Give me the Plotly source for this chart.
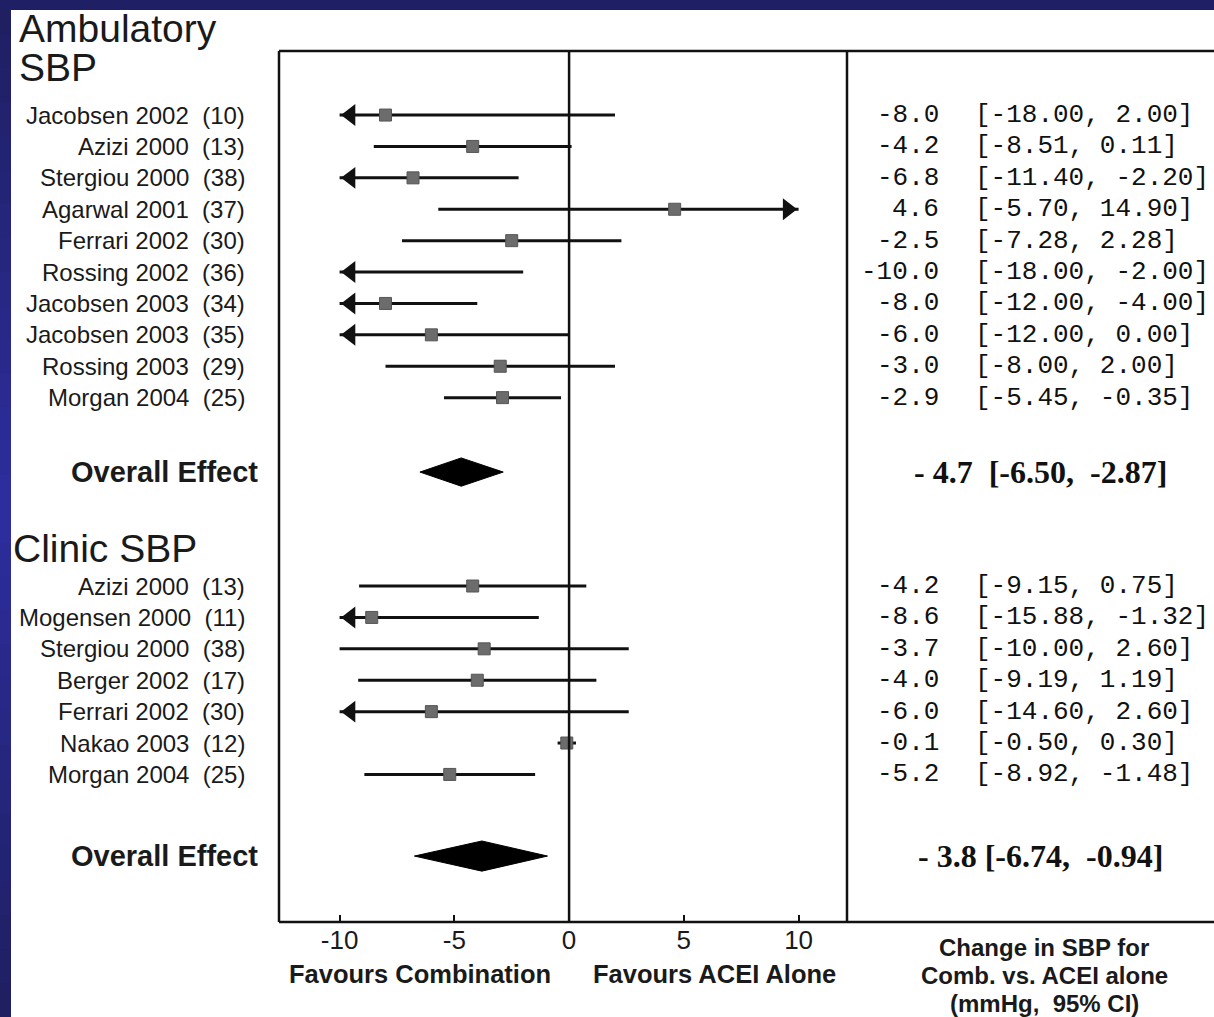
import plotly.graph_objects as go

W, H = 1214, 1017

# ---------------- data ----------------
amb_studies = ["Jacobsen 2002  (10)", "Azizi 2000  (13)", "Stergiou 2000  (38)", "Agarwal 2001  (37)",
               "Ferrari 2002  (30)", "Rossing 2002  (36)", "Jacobsen 2003  (34)", "Jacobsen 2003  (35)",
               "Rossing 2003  (29)", "Morgan 2004  (25)"]
amb_est = [-8.0, -4.2, -6.8, 4.6, -2.5, -10.0, -8.0, -6.0, -3.0, -2.9]
amb_lo = [-18.00, -8.51, -11.40, -5.70, -7.28, -18.00, -12.00, -12.00, -8.00, -5.45]
amb_hi = [2.00, 0.11, -2.20, 14.90, 2.28, -2.00, -4.00, 0.00, 2.00, -0.35]
amb_overall = (-4.7, -6.50, -2.87)

cli_studies = ["Azizi 2000  (13)", "Mogensen 2000  (11)", "Stergiou 2000  (38)", "Berger 2002  (17)",
               "Ferrari 2002  (30)", "Nakao 2003  (12)", "Morgan 2004  (25)"]
cli_est = [-4.2, -8.6, -3.7, -4.0, -6.0, -0.1, -5.2]
cli_lo = [-9.15, -15.88, -10.00, -9.19, -14.60, -0.50, -8.92]
cli_hi = [0.75, -1.32, 2.60, 1.19, 2.60, 0.30, -1.48]
cli_overall = (-3.8, -6.74, -0.94)

tick_vals = [-10, -5, 0, 5, 10]

# ---------------- layout helpers ----------------
PX_L, PX_R, PX_T, PX_B = 279, 847, 51, 922
X_RANGE = [-12.64, 12.11]
Y_RANGE = [25.7, -2.04]
px_per_unit = (PX_R - PX_L) / (X_RANGE[1] - X_RANGE[0])
CLIP = 10.0

amb_rows = list(range(len(amb_studies)))
amb_overall_row = 11.37
cli_rows = [15 + i for i in range(len(cli_studies))]
cli_overall_row = 23.6

def fx(p):
    return p / W

def fy(p):
    return 1 - p / H

fig = go.Figure()
annotations = []
shapes = []

# navy frame
nb = 30
for i in range(nb):
    t = i / (nb - 1)
    k = 1 - abs(t - 0.5) * 2
    r = int(0x1f + (0x2e - 0x1f) * k)
    g = int(0x1f + (0x2e - 0x1f) * k)
    b = int(0x62 + (0xa0 - 0x62) * k)
    shapes.append(dict(type="rect", xref="paper", yref="paper", x0=0, x1=fx(11),
                       y0=max(0, 1 - (i + 1) / nb - 0.004), y1=1 - i / nb,
                       fillcolor=f"#{r:02x}{g:02x}{b:02x}", line=dict(width=0), layer="below"))
shapes.append(dict(type="rect", xref="paper", yref="paper", x0=0, x1=1, y0=fy(10), y1=1,
                   fillcolor="#1f1f66", line=dict(width=0), layer="below"))

LW = 2.5
# frame lines
shapes += [
    dict(type="line", xref="paper", yref="paper", x0=fx(PX_L), x1=1, y0=fy(PX_T), y1=fy(PX_T),
         line=dict(color="#111", width=LW)),
    dict(type="line", xref="paper", yref="paper", x0=fx(PX_L), x1=1, y0=fy(PX_B), y1=fy(PX_B),
         line=dict(color="#111", width=LW)),
    dict(type="line", xref="paper", yref="paper", x0=fx(PX_L), x1=fx(PX_L), y0=fy(PX_B), y1=fy(PX_T),
         line=dict(color="#111", width=LW)),
    dict(type="line", xref="paper", yref="paper", x0=fx(PX_R), x1=fx(PX_R), y0=fy(PX_B), y1=fy(PX_T),
         line=dict(color="#111", width=LW)),
    dict(type="line", xref="x", yref="paper", x0=0, x1=0, y0=fy(PX_B), y1=fy(PX_T),
         line=dict(color="#111", width=LW)),
]

arrow_size = 19
arrow_off = (arrow_size / 3 ** 0.5) / px_per_unit  # tip offset of triangle marker

mono = dict(family="Liberation Mono, Courier New", size=26, color="#111")


def add_group(names, est, lo, hi, rows):
    for n, e, l, h, r in zip(names, est, lo, hi, rows):
        lc = max(l, -CLIP)
        hc = min(h, CLIP)
        fig.add_trace(go.Scatter(x=[lc, hc], y=[r, r], mode="lines",
                                 line=dict(color="#111", width=3), hoverinfo="skip", showlegend=False))
        annotations.append(dict(x=fx(247), xref="paper", y=r, yref="y", text=n, showarrow=False,
                                xanchor="right", yanchor="middle",
                                font=dict(family="Liberation Sans, Arial", size=24, color="#1a1a1a")))
        annotations.append(dict(x=fx(941), xref="paper", y=r, yref="y", text=f"{e:.1f}",
                                showarrow=False, xanchor="right", yanchor="middle", font=mono))
        txt = f"[{l:.2f}, {h:.2f}]".replace(" ", "\u00a0")
        annotations.append(dict(x=fx(973), xref="paper", y=r, yref="y", text=txt, showarrow=False,
                                xanchor="left", yanchor="middle", font=mono))
    vis = [(e, r) for e, r in zip(est, rows) if -CLIP < e < CLIP]
    fig.add_trace(go.Scatter(x=[v[0] for v in vis], y=[v[1] for v in vis], mode="markers",
                             marker=dict(symbol="square", size=12, color="#6c6c6c",
                                         line=dict(color="#555", width=1)),
                             hoverinfo="skip", showlegend=False))
    for l, h, r in zip(lo, hi, rows):
        if l < -CLIP:
            fig.add_trace(go.Scatter(x=[-CLIP + arrow_off], y=[r], mode="markers",
                                     marker=dict(symbol="triangle-left", size=arrow_size, color="#111"),
                                     hoverinfo="skip", showlegend=False))
        if h > CLIP:
            fig.add_trace(go.Scatter(x=[CLIP - arrow_off], y=[r], mode="markers",
                                     marker=dict(symbol="triangle-right", size=arrow_size, color="#111"),
                                     hoverinfo="skip", showlegend=False))


def add_overall(ov, row, half, label_txt):
    e, l, h = ov
    fig.add_trace(go.Scatter(x=[l, e, h, e, l], y=[row, row - half, row, row + half, row],
                             mode="lines", fill="toself", fillcolor="#000",
                             line=dict(color="#000", width=1), hoverinfo="skip", showlegend=False))
    annotations.append(dict(x=fx(260), xref="paper", y=row, yref="y", text="Overall Effect",
                            showarrow=False, xanchor="right", yanchor="middle",
                            font=dict(family="Liberation Sans, Arial", size=29, color="#1a1a1a",
                                      weight="bold")))
    annotations.append(dict(x=fx(1040), xref="paper", y=row, yref="y", text=label_txt,
                            showarrow=False, xanchor="center", yanchor="middle",
                            font=dict(family="Liberation Serif, Times New Roman", size=32,
                                      color="#111", weight="bold")))


add_group(amb_studies, amb_est, amb_lo, amb_hi, amb_rows)
add_group(cli_studies, cli_est, cli_lo, cli_hi, cli_rows)

ae, al, ah = amb_overall
add_overall(amb_overall, amb_overall_row, 0.45,
            f"- {abs(ae):.1f}  [{al:.2f},  {ah:.2f}]".replace(" ", "\u00a0"))
ce, cl, ch = cli_overall
add_overall(cli_overall, cli_overall_row, 0.48,
            f"- {abs(ce):.1f} [{cl:.2f},  {ch:.2f}]".replace(" ", "\u00a0"))

# headers
hdr_font = dict(family="Liberation Sans, Arial", size=39, color="#1a1a1a")
annotations += [
    dict(x=fx(17), y=fy(28), xref="paper", yref="paper", text="Ambulatory", showarrow=False,
         xanchor="left", yanchor="middle", font=hdr_font),
    dict(x=fx(17), y=fy(68), xref="paper", yref="paper", text="SBP", showarrow=False,
         xanchor="left", yanchor="middle", font=hdr_font),
    dict(x=fx(11), y=fy(548), xref="paper", yref="paper", text="Clinic SBP", showarrow=False,
         xanchor="left", yanchor="middle", font=hdr_font),
]

bold_font = dict(family="Liberation Sans, Arial", size=25.5, color="#1a1a1a", weight="bold")
foot_font = dict(family="Liberation Sans, Arial", size=24, color="#1a1a1a", weight="bold")
footer_lines = ["Change in SBP for", "Comb. vs. ACEI alone", "(mmHg,\u00a0 95% CI)"]
footer_y = [947, 975, 1003]
annotations += [
    dict(x=fx(420), y=fy(974), xref="paper", yref="paper", text="Favours Combination",
         showarrow=False, xanchor="center", yanchor="middle", font=bold_font),
    dict(x=fx(714), y=fy(974), xref="paper", yref="paper", text="Favours ACEI Alone",
         showarrow=False, xanchor="center", yanchor="middle", font=bold_font),
]
for t, yy in zip(footer_lines, footer_y):
    annotations.append(dict(x=fx(1044), y=fy(yy), xref="paper", yref="paper", text=t,
                            showarrow=False, xanchor="center", yanchor="middle", font=foot_font))

fig.update_layout(
    width=W, height=H,
    margin=dict(l=0, r=0, t=0, b=0),
    paper_bgcolor="white", plot_bgcolor="white",
    showlegend=False,
    shapes=shapes,
    annotations=annotations,
    xaxis=dict(domain=[fx(PX_L), fx(PX_R)], range=X_RANGE, tickvals=tick_vals,
               ticktext=[str(v) for v in tick_vals], ticks="inside", ticklen=7, tickwidth=2,
               tickcolor="#111", showgrid=False, zeroline=False, showline=False,
               tickfont=dict(family="Liberation Sans, Arial", size=26, color="#1a1a1a"),
               fixedrange=True),
    yaxis=dict(domain=[fy(PX_B), fy(PX_T)], range=Y_RANGE, visible=False, fixedrange=True),
)

fig.write_html("out.html", config={"displayModeBar": False},
               post_script="document.body.style.margin='0px';document.body.style.overflow='hidden';")
